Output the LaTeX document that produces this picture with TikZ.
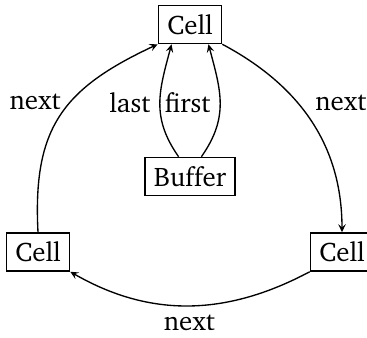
\documentclass[tikz,border=0pt]{standalone}
\usepackage[T1]{fontenc}
\usepackage{charter}
\usetikzlibrary{positioning, arrows.meta}

\begin{document}
\begin{tikzpicture}[x=0.372pt, y=0.372pt, line width=0.5pt,
                    >={Stealth[length=3pt, width=2.8pt, inset=1.2pt]},
                    cellbox/.style={draw, inner sep=3.33pt}]
                        \useasboundingbox (0,0) rectangle (367,338);
                        % Cells:
                        \node [cellbox] (top) at (190,313.5) {Cell};
                        \node [cellbox] (buffer) at (190,161.5) {Buffer};
                        \node [cellbox] (left) at (38,86) {Cell};
                        \node [cellbox] (right) at (342,86) {Cell};

                        % Ring:
                        \draw [->] (left.north) to [out=93, in=205, looseness=1.2] node [left, pos=0.58] {next} (top.south west);
                        \draw [->] (top.south east) to [out=-28, in=90] node [right, pos=0.4, xshift=3pt] {next} (right.north);
                        \draw [->] (right.south west) to [out=208, in=-30] node [below] {next} (left.south east);

                        % Buffer:
                        \draw [->] (buffer.120) to [out=125, in=255, looseness=1.1] node [left] {last} (top.227);
                        \draw [->] (buffer.60) to [out=55, in=285, looseness=1.1] node [left] {first} (top.313);
                    \end{tikzpicture}
\end{document}
